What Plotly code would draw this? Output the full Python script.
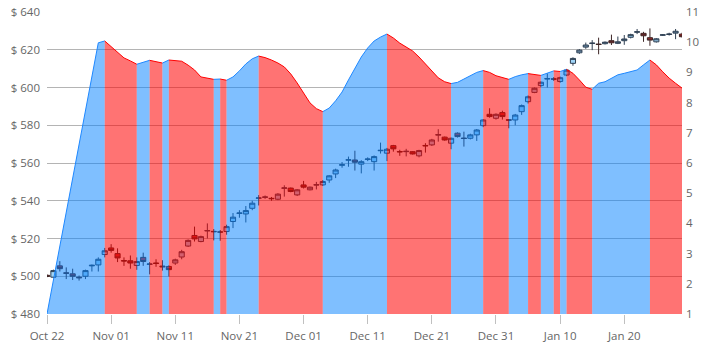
import pandas as pd
import plotly.graph_objects as go

start_date = "2018-10-22"
n_days = 100
dates = pd.date_range(start_date, periods=n_days, freq="D")

open_ = [500.5, 499.5, 505.5, 501.8, 501.3, 499.5, 500.0, 505.5, 506.0, 511.5,
         515.0, 512.0, 508.3, 508.2, 505.7, 510.0, 506.3, 507.0, 505.4, 505.2,
         507.0, 510.2, 516.0, 521.6, 518.4, 524.0, 523.8, 523.5, 523.7, 529.0,
         533.3, 533.0, 536.0, 541.3, 541.8, 541.3, 540.8, 546.6, 546.7, 543.1,
         548.4, 545.8, 548.3, 548.4, 551.0, 554.2, 558.8, 561.5, 561.6, 559.4,
         561.9, 560.7, 566.5, 565.2, 569.2, 566.1, 566.0, 566.0, 563.8, 569.3,
         569.6, 574.8, 573.7, 570.5, 575.8, 573.2, 573.1, 574.9, 579.8, 585.8,
         583.7, 586.7, 582.9, 582.8, 587.2, 592.5, 597.4, 601.0, 604.5, 604.6,
         603.2, 606.6, 612.8, 618.4, 621.4, 623.3, 623.0, 623.2, 624.8, 623.4,
         624.8, 626.6, 629.3, 628.7, 626.4, 624.2, 627.7, 628.1, 628.8, 628.3]
high = [501.0, 503.5, 508.0, 504.7, 504.0, 500.4, 503.5, 506.2, 510.0, 515.0,
        517.0, 514.8, 510.0, 511.0, 510.0, 512.5, 507.5, 509.0, 508.5, 505.8,
        509.3, 514.0, 519.5, 526.3, 521.5, 528.0, 525.0, 524.5, 527.3, 533.5,
        535.0, 537.2, 540.0, 543.0, 542.8, 542.0, 544.0, 548.2, 547.0, 546.2,
        550.5, 547.5, 550.0, 551.0, 553.5, 557.0, 560.5, 563.4, 566.5, 561.5,
        563.0, 564.0, 570.8, 568.0, 569.6, 567.0, 567.5, 566.3, 567.0, 570.5,
        572.8, 577.9, 574.0, 573.5, 576.2, 576.6, 575.5, 578.0, 583.2, 589.0,
        586.3, 587.7, 583.2, 586.0, 591.0, 595.8, 600.0, 603.2, 607.5, 605.5,
        605.8, 609.8, 616.0, 620.3, 623.8, 625.1, 626.4, 624.4, 628.0, 627.0,
        627.8, 628.5, 631.0, 629.5, 631.3, 626.2, 628.3, 629.0, 631.0, 629.0]
low = [499.5, 499.0, 502.5, 498.5, 498.0, 497.7, 498.5, 502.5, 502.5, 510.0,
       512.5, 507.5, 505.5, 504.0, 503.4, 505.5, 501.0, 505.0, 503.0, 499.9,
       506.0, 509.0, 515.5, 518.4, 518.0, 520.0, 519.0, 518.8, 522.0, 525.5,
       531.0, 528.5, 535.0, 537.5, 541.0, 540.0, 540.3, 542.2, 544.5, 542.5,
       546.5, 545.5, 546.0, 547.8, 549.5, 552.0, 557.5, 558.0, 556.0, 554.5,
       561.0, 556.0, 565.0, 561.0, 566.0, 563.8, 563.5, 564.5, 563.0, 565.5,
       569.0, 571.3, 571.8, 567.3, 573.5, 568.7, 572.5, 571.7, 579.0, 584.0,
       583.0, 583.0, 578.4, 580.0, 585.5, 591.5, 597.0, 600.3, 600.0, 603.5,
       602.5, 606.0, 611.5, 617.8, 620.5, 619.8, 617.6, 622.8, 622.5, 623.0,
       622.6, 626.0, 628.3, 624.2, 622.1, 623.8, 627.3, 627.5, 625.6, 626.5]
close = [500.0, 503.0, 504.0, 501.6, 500.0, 499.2, 503.0, 505.8, 509.0, 513.5,
         513.7, 509.7, 508.1, 507.0, 507.8, 507.8, 506.5, 506.8, 505.0, 503.5,
         508.7, 513.0, 519.0, 519.8, 521.0, 524.2, 523.6, 523.4, 526.3, 531.3,
         533.5, 534.8, 538.7, 541.5, 542.0, 541.1, 543.5, 546.8, 544.9, 545.8,
         547.2, 547.2, 548.5, 550.2, 553.2, 556.3, 559.1, 561.7, 560.4, 560.7,
         562.1, 563.4, 566.7, 567.3, 567.5, 565.9, 566.2, 564.8, 566.6, 569.1,
         572.2, 575.0, 572.2, 573.1, 574.0, 573.0, 574.9, 577.5, 582.8, 584.6,
         585.8, 584.6, 582.7, 585.4, 590.4, 595.1, 599.6, 602.8, 604.7, 604.4,
         605.2, 609.2, 615.4, 619.8, 622.5, 623.5, 622.8, 624.0, 623.7, 624.2,
         625.7, 628.0, 629.5, 627.4, 625.1, 625.8, 627.9, 628.3, 629.8, 626.9]

indicator = [1.00, None, None, None, None, None, None, None, 9.98, 10.04,
             9.85, 9.67, 9.48, 9.38, 9.27, 9.34, 9.40, 9.36, 9.31, 9.41,
             9.39, 9.37, 9.24, 9.08, 8.85, 8.81, 8.77, 8.78, 8.74, 8.85,
             9.05, 9.28, 9.45, 9.54, 9.49, 9.41, 9.31, 9.18, 8.95, 8.65,
             8.30, 7.99, 7.80, 7.70, 7.82, 8.06, 8.35, 8.75, 9.15, 9.51,
             9.81, 10.04, 10.17, 10.27, 10.14, 9.97, 9.84, 9.71, 9.51, 9.28,
             9.02, 8.82, 8.69, 8.63, 8.67, 8.78, 8.89, 9.00, 9.06, 9.00,
             8.89, 8.83, 8.77, 8.86, 8.92, 8.96, 8.93, 8.90, 8.97, 9.05,
             9.03, 9.10, 8.97, 8.75, 8.51, 8.44, 8.64, 8.69, 8.81, 8.92,
             8.97, 9.02, 9.08, 9.25, 9.41, 9.25, 9.02, 8.81, 8.64, 8.48]

FONT = "Segoe UI, Open Sans, sans-serif"
UP_FILL, UP_LINE = "rgba(0,128,255,0.5)", "rgb(30,136,255)"
DN_FILL, DN_LINE = "rgba(255,0,0,0.55)", "rgb(255,0,0)"

fig = go.Figure()

fig.add_trace(go.Candlestick(
    x=dates, open=open_, high=high, low=low, close=close,
    increasing=dict(fillcolor="#9fd4f7", line=dict(color="#2f3f52", width=1)),
    decreasing=dict(fillcolor="#c62828", line=dict(color="#3d2626", width=1)),
    whiskerwidth=0, showlegend=False, hoverinfo="skip", yaxis="y"))

# indicator area, split into rising / falling runs
pts = [(d, v) for d, v in zip(dates, indicator) if v is not None]
runs = []
cur = [pts[0], pts[1]]
cur_dir = pts[1][1] >= pts[0][1]
for k in range(2, len(pts)):
    d = pts[k][1] >= pts[k - 1][1]
    if d == cur_dir:
        cur.append(pts[k])
    else:
        runs.append((cur_dir, cur))
        cur = [pts[k - 1], pts[k]]
        cur_dir = d
runs.append((cur_dir, cur))

for up, seg in runs:
    fig.add_trace(go.Scatter(
        x=[p[0] for p in seg], y=[p[1] for p in seg], yaxis="y2",
        mode="lines", fill="tozeroy",
        fillcolor=UP_FILL if up else DN_FILL,
        line=dict(color=UP_LINE if up else DN_LINE, width=1),
        showlegend=False, hoverinfo="skip"))

fig.update_layout(
    width=717, height=358,
    margin=dict(l=47, r=35, t=12, b=44),
    paper_bgcolor="white", plot_bgcolor="white",
    font=dict(family=FONT, size=11.5, color="#666666"),
    boxgap=0.2, boxgroupgap=0,
    xaxis=dict(type="date", range=[dates[0], dates[-1]], automargin=False,
               tick0=start_date, dtick=86400000 * 10, tickformat="%b %d",
               ticks="outside", ticklen=9, tickcolor="#c0c0c0",
               showgrid=False, showline=False, zeroline=False,
               rangeslider=dict(visible=False), ticklabelstandoff=2),
    yaxis=dict(range=[480, 640], dtick=20, tickprefix="$ ", automargin=False,
               showgrid=True, gridcolor="#b4b4b4", gridwidth=1,
               zeroline=False, showline=False, ticks="", ticklabelstandoff=6),
    yaxis2=dict(range=[1, 11], dtick=1, overlaying="y", side="right",
                automargin=False,
                showgrid=False, zeroline=False, showline=False, ticks="",
                ticklabelstandoff=3),
)

fig.write_html("out.html",
               config={"displayModeBar": False},
               post_script="document.body.style.margin='0';"
                           "document.body.style.overflow='hidden';")
